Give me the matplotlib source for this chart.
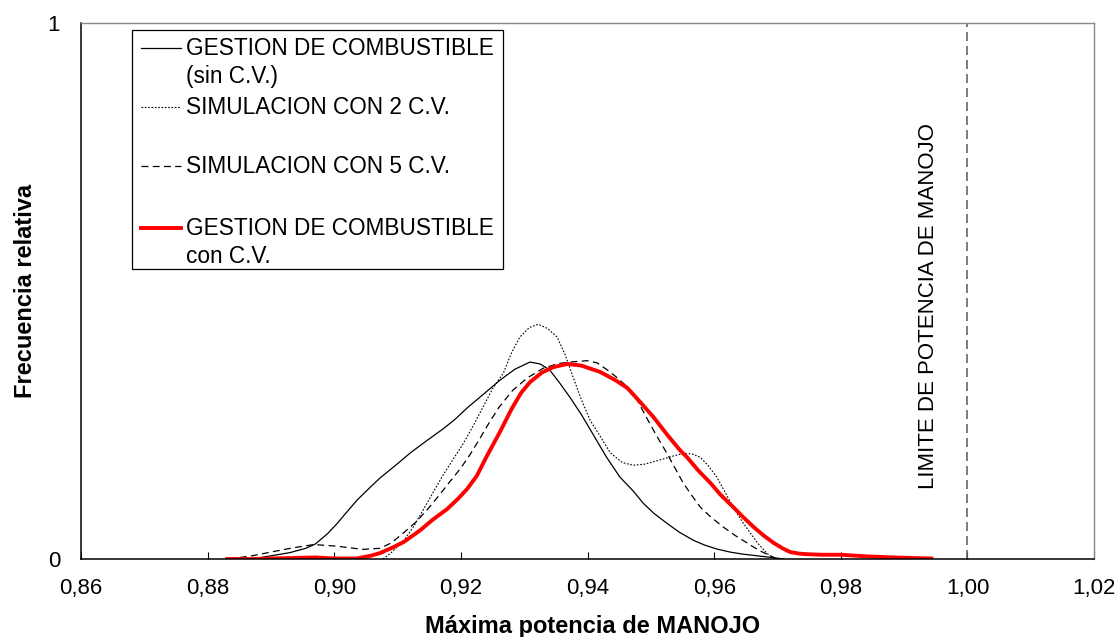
import matplotlib
matplotlib.use("Agg")
import matplotlib.pyplot as plt
from matplotlib.patches import Rectangle
from matplotlib.ticker import FuncFormatter

plt.rcParams['font.family'] = ['Liberation Sans', 'DejaVu Sans']

# GESTION DE COMBUSTIBLE (sin C.V.)
x_sin = [0.883, 0.887, 0.890, 0.893, 0.8955, 0.897, 0.899, 0.9005, 0.902, 0.9036,
         0.9055, 0.9072, 0.910, 0.912, 0.9145, 0.9172, 0.919, 0.921, 0.9235, 0.9262,
         0.9285, 0.9309, 0.9325, 0.934, 0.9355, 0.9372, 0.939, 0.9409, 0.943, 0.9451,
         0.9472, 0.9488, 0.9505, 0.9525, 0.9545, 0.9567, 0.9585, 0.9604, 0.9625, 0.9646,
         0.9668, 0.969, 0.971]
y_sin = [0.0, 0.0, 0.006, 0.012, 0.020, 0.028, 0.048, 0.067, 0.088, 0.110,
         0.132, 0.151, 0.178, 0.198, 0.220, 0.243, 0.260, 0.282, 0.307, 0.334,
         0.354, 0.3675, 0.364, 0.353, 0.330, 0.302, 0.270, 0.232, 0.190, 0.153,
         0.127, 0.104, 0.085, 0.067, 0.050, 0.035, 0.026, 0.0187, 0.013, 0.009,
         0.006, 0.003, 0.0]

# SIMULACION CON 2 C.V.
x_2cv = [0.9077, 0.909, 0.911, 0.9125, 0.914, 0.9155, 0.917, 0.9187, 0.9204, 0.922,
         0.9235, 0.925, 0.9267, 0.928, 0.9293, 0.9308, 0.9322, 0.9337, 0.9352, 0.9365,
         0.9377, 0.939, 0.9404, 0.942, 0.9436, 0.9455, 0.9472, 0.949, 0.9515, 0.9535,
         0.9551, 0.9565, 0.9578, 0.959, 0.9604, 0.9617, 0.963, 0.9643, 0.9657, 0.967,
         0.9683, 0.9695]
y_2cv = [0.0, 0.012, 0.035, 0.060, 0.091, 0.122, 0.153, 0.185, 0.216, 0.250,
         0.284, 0.318, 0.347, 0.385, 0.414, 0.432, 0.438, 0.430, 0.414, 0.380,
         0.340, 0.298, 0.259, 0.229, 0.198, 0.180, 0.175, 0.177, 0.185, 0.192,
         0.197, 0.196, 0.190, 0.175, 0.153, 0.125, 0.097, 0.072, 0.0485, 0.028,
         0.011, 0.0]

# SIMULACION CON 5 C.V.
x_5cv = [0.8833, 0.887, 0.890, 0.8935, 0.8968, 0.9004, 0.9045, 0.9072, 0.909, 0.9109,
         0.9128, 0.9146, 0.9165, 0.9183, 0.920, 0.9215, 0.923, 0.9245, 0.926, 0.9282,
         0.9305, 0.933, 0.9355, 0.9377, 0.940, 0.9415, 0.9431, 0.9447, 0.9463, 0.948,
         0.9494, 0.951, 0.9525, 0.9538, 0.9551, 0.9565, 0.9578, 0.9595, 0.9614, 0.9633,
         0.9652, 0.9668, 0.9683, 0.970]
y_5cv = [0.0, 0.006, 0.013, 0.021, 0.027, 0.024, 0.018, 0.020, 0.030, 0.0485,
         0.068, 0.091, 0.118, 0.145, 0.170, 0.196, 0.225, 0.255, 0.283, 0.315,
         0.338, 0.356, 0.365, 0.368, 0.370, 0.366, 0.353, 0.338, 0.321, 0.293,
         0.262, 0.228, 0.198, 0.170, 0.142, 0.118, 0.097, 0.078, 0.060, 0.044,
         0.030, 0.018, 0.009, 0.0]

# GESTION DE COMBUSTIBLE con C.V.
x_con = [0.8831, 0.887, 0.890, 0.8935, 0.897, 0.900, 0.9035, 0.9057, 0.9072, 0.9093,
         0.911, 0.9136, 0.9155, 0.9178, 0.9195, 0.921, 0.9225, 0.924, 0.9262, 0.928,
         0.9295, 0.9309, 0.9328, 0.9346, 0.9368, 0.939, 0.942, 0.9445, 0.9463, 0.948,
         0.9504, 0.9525, 0.9546, 0.9557, 0.9575, 0.9594, 0.961, 0.963, 0.9646, 0.9662,
         0.9678, 0.9694, 0.9708, 0.972, 0.9735, 0.9747, 0.977, 0.980, 0.984, 0.988,
         0.9943]
y_con = [0.0, 0.0, 0.001, 0.002, 0.003, 0.001, 0.001, 0.006, 0.011, 0.022,
         0.032, 0.054, 0.073, 0.093, 0.112, 0.131, 0.155, 0.190, 0.238, 0.280,
         0.310, 0.330, 0.348, 0.358, 0.364, 0.361, 0.349, 0.333, 0.319, 0.297,
         0.265, 0.233, 0.203, 0.190, 0.165, 0.142, 0.120, 0.097, 0.078, 0.060,
         0.044, 0.030, 0.020, 0.013, 0.010, 0.009, 0.008, 0.008, 0.005, 0.003,
         0.001]

labels = ["GESTION DE COMBUSTIBLE\n(sin C.V.)", "SIMULACION CON 2 C.V.",
          "SIMULACION CON 5 C.V.", "GESTION DE COMBUSTIBLE\ncon C.V."]
x_ticks = [0.86, 0.88, 0.90, 0.92, 0.94, 0.96, 0.98, 1.00, 1.02]
limite = 1.00

styles = [dict(color='black', lw=0.9, ls='-'),
          dict(color='black', lw=0.8, ls=(0, (1.5, 1.5))),
          dict(color='black', lw=0.9, ls=(0, (5.5, 3.5))),
          dict(color='#ff0000', lw=2.8, ls='-')]

fig = plt.figure(figsize=(11.18, 6.37), dpi=100)
ax = fig.add_axes([0.0725, 0.1224, 0.9061, 0.8414])

series = [(x_sin, y_sin), (x_2cv, y_2cv), (x_5cv, y_5cv), (x_con, y_con)]
for (xs, ys), st in zip(series, styles):
    ax.plot(xs, ys, **st)

ax.axvline(limite, color='#666666', lw=1.2, ls=(0, (5.4, 3)))
ax.text(0.9938, 0.472, "LIMITE DE POTENCIA DE MANOJO", rotation=90,
        ha='center', va='center', fontsize=16)

ax.set_xlim(0.86, 1.02)
ax.set_ylim(0, 1)
ax.set_xticks(x_ticks)
ax.xaxis.set_major_formatter(FuncFormatter(lambda v, p: f"{v:.2f}".replace('.', ',')))
ax.set_yticks([0, 1])
ax.set_yticklabels(["0", "1"])
ax.tick_params(axis='x', direction='in', length=5, width=0.8, pad=13.5, labelsize=16)
ax.tick_params(axis='y', direction='in', length=0, pad=15, labelsize=16)

for s in ['top', 'right']:
    ax.spines[s].set_color('#888888')
    ax.spines[s].set_linewidth(1.0)
for s in ['left', 'bottom']:
    ax.spines[s].set_color('black')
    ax.spines[s].set_linewidth(1.1)

ax.set_xlabel("Máxima potencia de MANOJO", fontsize=17, fontweight='bold')
ax.set_ylabel("Frecuencia relativa", fontsize=17, fontweight='bold')
ax.xaxis.set_label_coords(0.505, -0.105)
ax.yaxis.set_label_coords(-0.0434, 0.5)

# legend drawn by hand so handles sit on the first line of each entry
tr = ax.transAxes
ax.add_patch(Rectangle((0.0503, 0.541), 0.3663, 0.446, transform=tr,
                       facecolor='white', edgecolor='black', lw=0.9, zorder=5))
entry_y = [0.9534, 0.8433, 0.7332, 0.6175]
line_step = 0.0522
for lab, st, y0 in zip(labels, styles, entry_y):
    ax.plot([0.0592, 0.0987], [y0, y0], transform=tr, zorder=6, **st)
    for i, part in enumerate(lab.split("\n")):
        ax.text(0.1037, y0 - i * line_step, part, transform=tr, ha='left',
                va='center', fontsize=16.3, zorder=6)

fig.savefig("out.png", dpi=100)
